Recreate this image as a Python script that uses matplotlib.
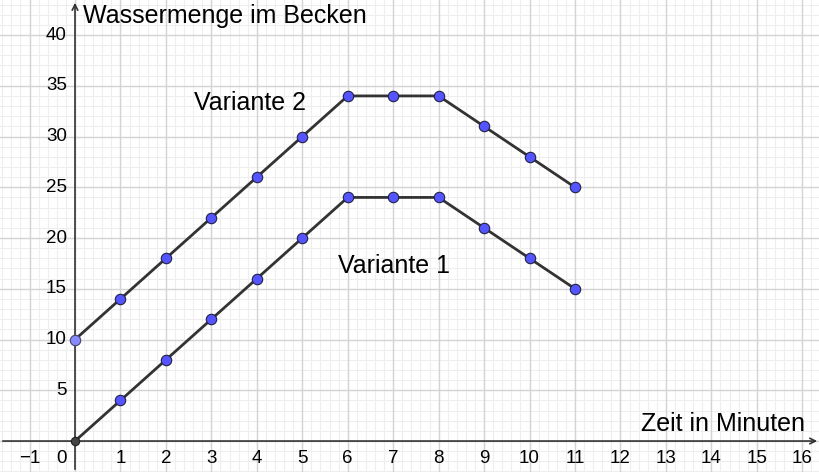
import numpy as np
import matplotlib
matplotlib.use("Agg")
from matplotlib import pyplot as plt

plt.rcParams['font.family'] = ['Liberation Sans', 'DejaVu Sans']

# Daten
zeit = [0, 1, 2, 3, 4, 5, 6, 7, 8, 9, 10, 11]
variante_1 = [0, 4, 8, 12, 16, 20, 24, 24, 24, 21, 18, 15]
variante_2 = [10, 14, 18, 22, 26, 30, 34, 34, 34, 31, 28, 25]
x_ticks = [-1, 1, 2, 3, 4, 5, 6, 7, 8, 9, 10, 11, 12, 13, 14, 15, 16]
y_ticks = [5, 10, 15, 20, 25, 30, 35, 40]

fig = plt.figure(figsize=(8.2, 4.72), dpi=100)
ax = fig.add_axes([0, 0, 1, 1])
ax.set_xlim(-1.65, 16.39)
ax.set_ylim(-3.05, 43.45)

# Gitter
for x in np.arange(-1.6, 16.4, 0.2):
    ax.axvline(x, color='#eeeeee', lw=0.8, zorder=0)
for y in range(-3, 44):
    ax.axhline(y, color='#eeeeee', lw=0.8, zorder=0)
for x in range(-1, 17):
    ax.axvline(x, color='#d4d4d4', lw=1.0, zorder=0)
for y in range(0, 44, 5):
    ax.axhline(y, color='#d4d4d4', lw=1.0, zorder=0)

for s in ax.spines.values():
    s.set_visible(False)
ax.set_xticks([])
ax.set_yticks([])

# Achsen mit Pfeilen
ax.annotate('', xy=(16.39, 0), xytext=(-1.65, 0),
            arrowprops=dict(arrowstyle='->', color='#333333', lw=1.2))
ax.annotate('', xy=(0, 43.45), xytext=(0, -3.05),
            arrowprops=dict(arrowstyle='->', color='#333333', lw=1.2))

for x in x_ticks:
    ax.text(x, -0.9, str(x).replace('-', '\u2212'), ha='center', va='top', fontsize=13.5)
ax.text(-0.3, -0.9, '0', ha='center', va='top', fontsize=13.5)
for y in y_ticks:
    ax.text(-0.18, y, str(y), ha='right', va='center', fontsize=13.5)

ax.text(0.17, 41.9, 'Wassermenge im Becken', ha='left', va='center', fontsize=18)
ax.text(16.05, 0.5, 'Zeit in Minuten', ha='right', va='bottom', fontsize=18)

# Kurven
ax.plot(zeit, variante_2, color='#333333', lw=2, zorder=3)
ax.plot(zeit, variante_1, color='#333333', lw=2, zorder=3)
ax.plot(zeit[1:], variante_2[1:], 'o', ms=7.5, mfc='#5555ff', mec='#222244', mew=0.8, zorder=4)
ax.plot(zeit[1:], variante_1[1:], 'o', ms=7.5, mfc='#5555ff', mec='#222244', mew=0.8, zorder=4)
ax.plot(zeit[0], variante_2[0], 'o', ms=7.5, mfc='#8888ff', mec='#444466', mew=0.8, zorder=4)
ax.plot(zeit[0], variante_1[0], 'o', ms=6, mfc='#444444', mec='#222222', mew=0.8, zorder=4)

ax.text(2.62, 33.3, 'Variante 2', ha='left', va='center', fontsize=18)
ax.text(5.78, 17.2, 'Variante 1', ha='left', va='center', fontsize=18)

fig.savefig('out.png', dpi=100)
